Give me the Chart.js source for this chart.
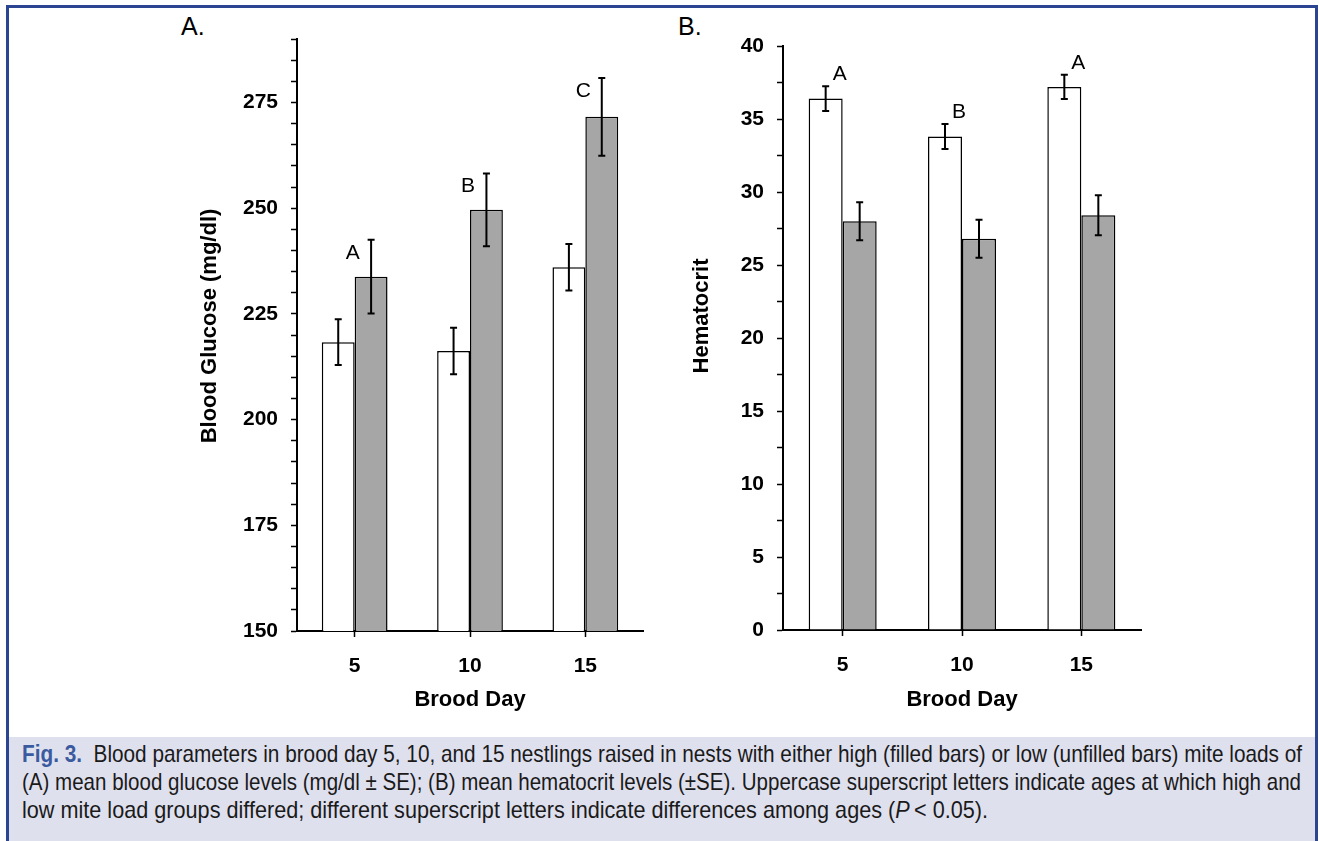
<!DOCTYPE html>
<html>
<head>
<meta charset="utf-8">
<script src="https://cdn.jsdelivr.net/npm/chart.js@4.4.1/dist/chart.umd.min.js"></script>
<style>
  body { margin: 0; width: 1319px; height: 841px; position: relative; overflow: hidden; background: #fff; font-family: "Liberation Sans", Arial, sans-serif; }
  #frame { position: absolute; left: 6px; top: 5px; width: 1306px; height: 860px; border: 3px solid #2c4592; border-bottom: none; }
  .panel { position: absolute; top: 0; height: 720px; }
  #panelA { left: 170px; width: 490px; }
  #panelB { left: 660px; width: 498px; }
  .plabel { position: absolute; top: 14px; font-size: 25px; line-height: 25px; color: #000; }
  #caption { position: absolute; left: 9px; top: 737px; width: 1306px; height: 104px; background: #dfe0ee; }
  #caption div { position: absolute; left: 13px; white-space: nowrap; font-family: "Liberation Sans", Arial, sans-serif; font-size: 24px; line-height: 28px; color: #1a1a1a; transform-origin: 0 0; }
  #caption b { color: #3a5a9f; }
</style>
</head>
<body>
<div id="frame"></div>
<div class="plabel" style="left:181px">A.</div>
<div class="plabel" style="left:678px">B.</div>
<div class="panel" id="panelA"><canvas id="chartA"></canvas></div>
<div class="panel" id="panelB"><canvas id="chartB"></canvas></div>
<div id="caption">
  <div style="top:3px" data-w="1280"><b>Fig. 3.</b>&nbsp; Blood parameters in brood day 5, 10, and 15 nestlings raised in nests with either high (filled bars) or low (unfilled bars) mite loads of</div>
  <div style="top:31px" data-w="1279">(A) mean blood glucose levels (mg/dl ± SE); (B) mean hematocrit levels (±SE). Uppercase superscript letters indicate ages at which high and</div>
  <div style="top:59px" data-w="966">low mite load groups differed; different superscript letters indicate differences among ages (<i>P</i>&thinsp;&lt; 0.05).</div>
</div>
<script>
// brood days on the x axis
const broodDays = ['5', '10', '15'];

// A. blood glucose (mg/dl), low mite = unfilled, high mite = filled
const glucoseLow = [218.3, 216.2, 236.0];
const glucoseLowSE = [5.4, 5.5, 5.5];
const glucoseHigh = [233.8, 249.6, 271.6];
const glucoseHighSE = [8.7, 8.6, 9.2];
const glucoseLetters = ['A', 'B', 'C'];

// B. hematocrit
const hctLow = [36.4, 33.8, 37.2];
const hctLowSE = [0.85, 0.85, 0.83];
const hctHigh = [28.0, 26.8, 28.4];
const hctHighSE = [1.3, 1.3, 1.37];
const hctLetters = ['A', 'B', 'A'];

const FAMILY = '"Liberation Sans", Arial, sans-serif';
const BOLD = { family: FAMILY, size: 21, weight: 'bold' };
const TITLE = { family: FAMILY, size: 22, weight: 'bold' };
const GREY = '#a6a6a6';

// squeeze caption lines to the condensed width of the original
document.querySelectorAll('#caption div').forEach(el => {
  const w = el.getBoundingClientRect().width;
  el.style.transform = 'scaleX(' + (el.dataset.w / w) + ')';
});

// error bars drawn from each dataset's "errors" array
const errorBars = {
  id: 'errorBars',
  afterDatasetsDraw(chart) {
    const ctx = chart.ctx;
    const y = chart.scales.y;
    ctx.save();
    ctx.strokeStyle = '#000';
    ctx.lineWidth = 2;
    chart.data.datasets.forEach((ds, i) => {
      const meta = chart.getDatasetMeta(i);
      meta.data.forEach((bar, j) => {
        const top = y.getPixelForValue(ds.data[j] + ds.errors[j]);
        const bot = y.getPixelForValue(ds.data[j] - ds.errors[j]);
        ctx.beginPath();
        ctx.moveTo(bar.x, top); ctx.lineTo(bar.x, bot);
        ctx.moveTo(bar.x - 3.5, top); ctx.lineTo(bar.x + 3.5, top);
        ctx.moveTo(bar.x - 3.5, bot); ctx.lineTo(bar.x + 3.5, bot);
        ctx.stroke();
      });
    });
    ctx.restore();
  }
};

// significance letters, placed relative to one dataset's upper error bar
const sigLetters = {
  id: 'sigLetters',
  afterDatasetsDraw(chart, args, opts) {
    if (!opts.letters) return;
    const ctx = chart.ctx;
    const x = chart.scales.x, y = chart.scales.y;
    const ds = chart.data.datasets[opts.dataset];
    ctx.save();
    ctx.fillStyle = '#000';
    ctx.font = '21px ' + FAMILY;
    ctx.textAlign = 'center';
    ctx.textBaseline = 'middle';
    opts.letters.forEach((l, j) => {
      const px = x.getPixelForValue(j) + opts.dx;
      const py = y.getPixelForValue(ds.data[j] + ds.errors[j]) + opts.dy;
      ctx.fillText(l, px, py);
    });
    ctx.restore();
  }
};

// rotated y-axis title (the original sits a bit above the plot centre)
const yTitle = {
  id: 'yTitle',
  afterDraw(chart, args, opts) {
    if (!opts.text) return;
    const ctx = chart.ctx;
    const area = chart.chartArea;
    ctx.save();
    ctx.translate(chart.scales.y.left + opts.x, (area.top + area.bottom) / 2 + opts.dy);
    ctx.rotate(-Math.PI / 2);
    ctx.fillStyle = '#000';
    ctx.font = 'bold 22px ' + FAMILY;
    ctx.textAlign = 'center';
    ctx.textBaseline = 'middle';
    ctx.fillText(opts.text, 0, 0);
    ctx.restore();
  }
};

function makeChart(id, low, lowSE, high, highSE, yOpts, titleOpts, letterOpts, yWidth, top, areaH) {
  return new Chart(document.getElementById(id), {
    type: 'bar',
    data: {
      labels: broodDays,
      datasets: [
        { label: 'Low mite load', data: low, errors: lowSE, backgroundColor: '#fff', borderColor: '#000', borderWidth: 1.5 },
        { label: 'High mite load', data: high, errors: highSE, backgroundColor: GREY, borderColor: '#000', borderWidth: 1.5 }
      ]
    },
    options: {
      responsive: true,
      maintainAspectRatio: false,
      animation: false,
      categoryPercentage: 0.57,
      barPercentage: 1.0,
      layout: { padding: { top: top, right: 17, left: 0, bottom: 0 } },
      plugins: {
        legend: { display: false },
        tooltip: { enabled: false },
        sigLetters: letterOpts,
        yTitle: titleOpts
      },
      scales: {
        x: {
          grid: { offset: false, drawOnChartArea: false, color: '#000', tickLength: 6, tickWidth: 1.5 },
          border: { color: '#000', width: 2 },
          ticks: { color: '#000', font: BOLD, padding: 17 },
          title: { display: true, text: 'Brood Day', color: '#000', font: TITLE, padding: { top: 0, bottom: 7 } },
          afterFit(s) { s.height = 720 - top - areaH; }
        },
        y: Object.assign({
          grid: { drawOnChartArea: false, color: '#000', tickLength: 6, tickWidth: 1.5 },
          border: { color: '#000', width: 2 },
          afterFit(s) { s.width = yWidth; }
        }, yOpts)
      }
    },
    plugins: [errorBars, sigLetters, yTitle]
  });
}

makeChart('chartA', glucoseLow, glucoseLowSE, glucoseHigh, glucoseHighSE, {
  min: 150, max: 290,
  ticks: { stepSize: 5, autoSkip: false, color: '#000', font: BOLD, padding: 13, callback: v => v % 25 === 0 ? v : '' }
}, { text: 'Blood Glucose (mg/dl)', x: 40, dy: -9 },
  { letters: glucoseLetters, dataset: 1, dx: -2, dy: 13 }, 127, 39, 592);

makeChart('chartB', hctLow, hctLowSE, hctHigh, hctHighSE, {
  min: 0, max: 40,
  ticks: { stepSize: 2.5, autoSkip: false, color: '#000', font: BOLD, padding: 13, callback: v => v % 5 === 0 ? v : '' }
}, { text: 'Hematocrit', x: 42, dy: -22 },
  { letters: hctLetters, dataset: 0, dx: -3, dy: -12 }, 123, 46, 584);
</script>
</body>
</html>
